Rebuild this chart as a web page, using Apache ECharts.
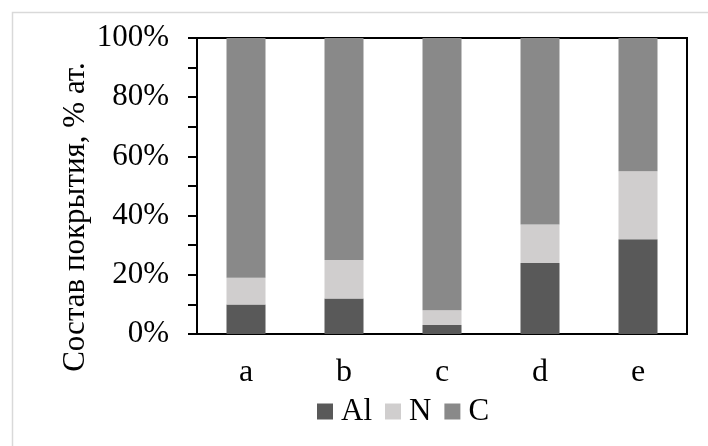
<!DOCTYPE html>
<html>
<head>
<meta charset="utf-8">
<script src="https://cdn.jsdelivr.net/npm/echarts@6/dist/echarts.min.js"></script>
<style>html,body{margin:0;padding:0;background:#fff;}#chart{width:708px;height:446px;}</style>
</head>
<body>
<div id="chart"></div>
<script>
const categories = ['a', 'b', 'c', 'd', 'e'];
const seriesNames = ['Al', 'N', 'C'];
const alValues = [10, 12, 3, 24, 32];
const nValues = [9, 13, 5, 13, 23];
const cValues = [81, 75, 92, 63, 45];
const yTicks = ['0%', '20%', '40%', '60%', '80%', '100%'];
const yTitle = 'Состав покрытия, % ат.';

const font = '"Liberation Serif", "Times New Roman", serif';
const colors = ['#595959', '#d0cece', '#898989'];
const values = [alValues, nValues, cValues];

const chart = echarts.init(document.getElementById('chart'), null, {renderer: 'canvas'});
chart.setOption({
  animation: false,
  backgroundColor: '#fff',
  graphic: [{
    type: 'rect', left: 10, top: 10, silent: true,
    shape: {width: 720, height: 460},
    style: {fill: 'none', stroke: '#d9d9d9', lineWidth: 1.5}
  }, {
    type: 'text', x: 76, y: 217, rotation: Math.PI / 2, silent: true,
    style: {text: yTitle, font: '31px ' + font, fill: '#000', textAlign: 'center', textVerticalAlign: 'middle'}
  }],
  grid: {left: 197, top: 38, right: 21, bottom: 112, show: true, borderColor: '#000', borderWidth: 2, backgroundColor: 'transparent'},
  legend: {
    data: seriesNames, top: 396, left: 317, padding: 0, itemWidth: 16, itemHeight: 16, itemGap: 13,
    icon: 'rect',
    textStyle: {fontFamily: font, fontSize: 31, color: '#000', padding: [0, 0, 0, 3]}
  },
  xAxis: {
    type: 'category', data: categories,
    axisLine: {lineStyle: {color: '#000', width: 2}},
    axisTick: {show: false},
    axisLabel: {fontFamily: font, fontSize: 32, color: '#000', margin: 23}
  },
  yAxis: {
    type: 'value', min: 0, max: 100, interval: 10,
    axisLine: {show: true, lineStyle: {color: '#000', width: 2}},
    axisTick: {show: true, length: 9, lineStyle: {color: '#000', width: 2}},
    splitLine: {show: false},
    axisLabel: {
      fontFamily: font, fontSize: 31, color: '#000', margin: 28,
      formatter: function (v) { return v % 20 === 0 ? yTicks[v / 20] : ''; }
    }
  },
  series: seriesNames.map((n, i) => ({
    name: n, type: 'bar', stack: 'total', data: values[i], barWidth: 39,
    itemStyle: {color: colors[i]}
  }))
});
</script>
</body>
</html>
